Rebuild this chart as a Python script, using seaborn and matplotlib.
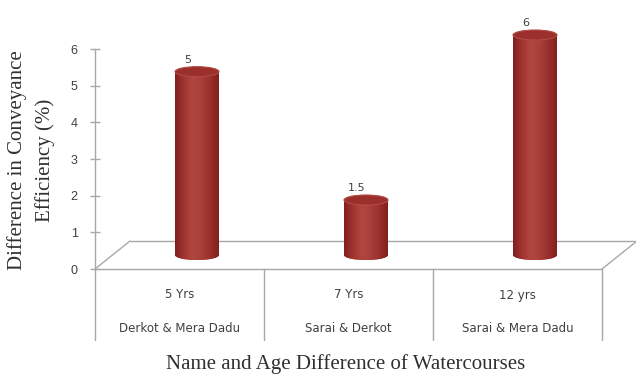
import numpy as np
import pandas as pd
import matplotlib
matplotlib.use("Agg")
import matplotlib.pyplot as plt
import matplotlib.transforms as mtransforms
from matplotlib.patches import Ellipse
from matplotlib.colors import LinearSegmentedColormap
import seaborn as sns

# Watercourse pairs, their age difference and the conveyance-efficiency gap
pairs = ["Derkot & Mera Dadu", "Sarai & Derkot", "Sarai & Mera Dadu"]
ages = ["5 Yrs", "7 Yrs", "12 yrs"]
diff = [5, 1.5, 6]
value_labels = ["5", "1.5", "6"]
yticks = [0, 1, 2, 3, 4, 5, 6]

sns.set_theme(style="white")
plt.rcParams["font.family"] = ["Liberation Sans", "DejaVu Sans"]

DPI = 100
fig = plt.figure(figsize=(6.36, 3.76), dpi=DPI)
W, H = 636, 376
YMAX = 6.6
px_unit = 220 / 6
# front plane of the 3-D box
left_px, right_px, bottom_px = 95, 602, 269
top_px = bottom_px - YMAX * px_unit
ax = fig.add_axes([left_px / W, 1 - bottom_px / H,
                   (right_px - left_px) / W, (bottom_px - top_px) / H])

df = pd.DataFrame({"pair": pairs, "diff": diff})
sns.barplot(data=df, x="pair", y="diff", color="#A33A36", width=0.26,
            saturation=1, ax=ax, edgecolor="none")

ax.set_xlim(-0.5, 2.5)
ax.set_ylim(0, YMAX)
ax.set_yticks(yticks)
ax.set_yticklabels([str(t) for t in yticks], fontsize=9, color="#404040")
ax.set_xticks([])
ax.set_xlabel("")
ax.set_ylabel("")

grey = "#A8A8A8"
for s in ["top", "right", "bottom"]:
    ax.spines[s].set_visible(False)
ax.spines["left"].set_color(grey)
ax.spines["left"].set_linewidth(1.0)
ax.spines["left"].set_bounds(0, 6)
ax.tick_params(axis="y", which="major", direction="inout", length=7,
               width=1.0, color=grey, pad=9, left=True)

# depth of the 3-D floor (pixels at this dpi)
depth_x, depth_y = 35 / DPI, 28 / DPI
back = mtransforms.ScaledTranslation(depth_x, depth_y, fig.dpi_scale_trans)
mid = mtransforms.ScaledTranslation(depth_x / 2, depth_y / 2, fig.dpi_scale_trans)

# floor outline
ta = ax.transAxes
floor_kw = dict(color=grey, lw=1.0, clip_on=False, zorder=1)
ax.plot([0, 1], [0, 0], transform=ta, **floor_kw)
ax.plot([0, 1], [0, 0], transform=ta + back, **floor_kw)
for xa in (0, 1):
    p0 = ta.transform((xa, 0))
    ax.plot([p0[0], p0[0] + depth_x * DPI], [p0[1], p0[1] + depth_y * DPI],
            transform=None, **floor_kw)

# category table below the floor
blend = mtransforms.blended_transform_factory(ax.transData, ax.transAxes)
axh = bottom_px - top_px
for xa in (0, 1 / 3, 2 / 3, 1):
    ax.plot([xa, xa], [0, -71 / axh], transform=ta, **floor_kw)

for i, (age, name) in enumerate(zip(ages, pairs)):
    ax.text(i, -26 / axh, age, transform=blend, ha="center", va="center",
            fontsize=8.5, color="#404040", family=["DejaVu Sans"])
    ax.text(i, -60 / axh, name, transform=blend, ha="center", va="center",
            fontsize=8.5, color="#404040", family=["DejaVu Sans"])

# cylinder shading across the bar width
cyl = LinearSegmentedColormap.from_list(
    "cyl", ["#801F1D", "#A0342F", "#B0473F", "#AA403B", "#9A2F2B", "#821F1D"])
grad = np.linspace(0, 1, 256).reshape(1, -1)

ell_h = 10 / px_unit
bar_tr = ax.transData + mid
for p, v in zip(ax.patches, diff):
    x0, w = p.get_x(), p.get_width()
    p.set_transform(bar_tr)
    p.set_zorder(2)
    # rounded bottom
    bot = Ellipse((x0 + w / 2, 0), w, ell_h, transform=bar_tr,
                  facecolor="#8E2825", edgecolor="none", zorder=2,
                  clip_on=False)
    ax.add_patch(bot)
    im = ax.imshow(grad, cmap=cyl, aspect="auto",
                   extent=[x0, x0 + w, 0, p.get_height()],
                   transform=bar_tr, zorder=3)
    im.set_clip_path(p)
    botim = ax.imshow(grad, cmap=cyl, aspect="auto",
                      extent=[x0, x0 + w, -ell_h / 2, 0],
                      transform=bar_tr, zorder=3)
    botim.set_clip_path(bot)
    # top cap
    top = Ellipse((x0 + w / 2, p.get_height()), w, ell_h, transform=bar_tr,
                  facecolor="#9A2F2B", edgecolor="#B24A46", lw=0.8, zorder=4)
    ax.add_patch(top)

ax.set_xlim(-0.5, 2.5)
ax.set_ylim(0, YMAX)

for i, (v, lab) in enumerate(zip(diff, value_labels)):
    ax.annotate(lab, xy=(i, v), xytext=(6, 18.5), textcoords="offset points",
                ha="center", va="center", fontsize=8, color="#404040",
                annotation_clip=False, family=["DejaVu Sans"])

serif = ["Liberation Serif", "DejaVu Serif"]
fig.text(31 / W, 1 - 160 / H, "Difference in Conveyance\nEfficiency (%)",
         rotation=90, ha="center", va="center", fontsize=15,
         family=serif, color="#303030", linespacing=1.55)
fig.text(346 / W, 1 - 364 / H, "Name and Age Difference of Watercourses",
         ha="center", va="center", fontsize=15, family=serif, color="#303030")

fig.savefig("out.png", dpi=DPI, facecolor="white")
